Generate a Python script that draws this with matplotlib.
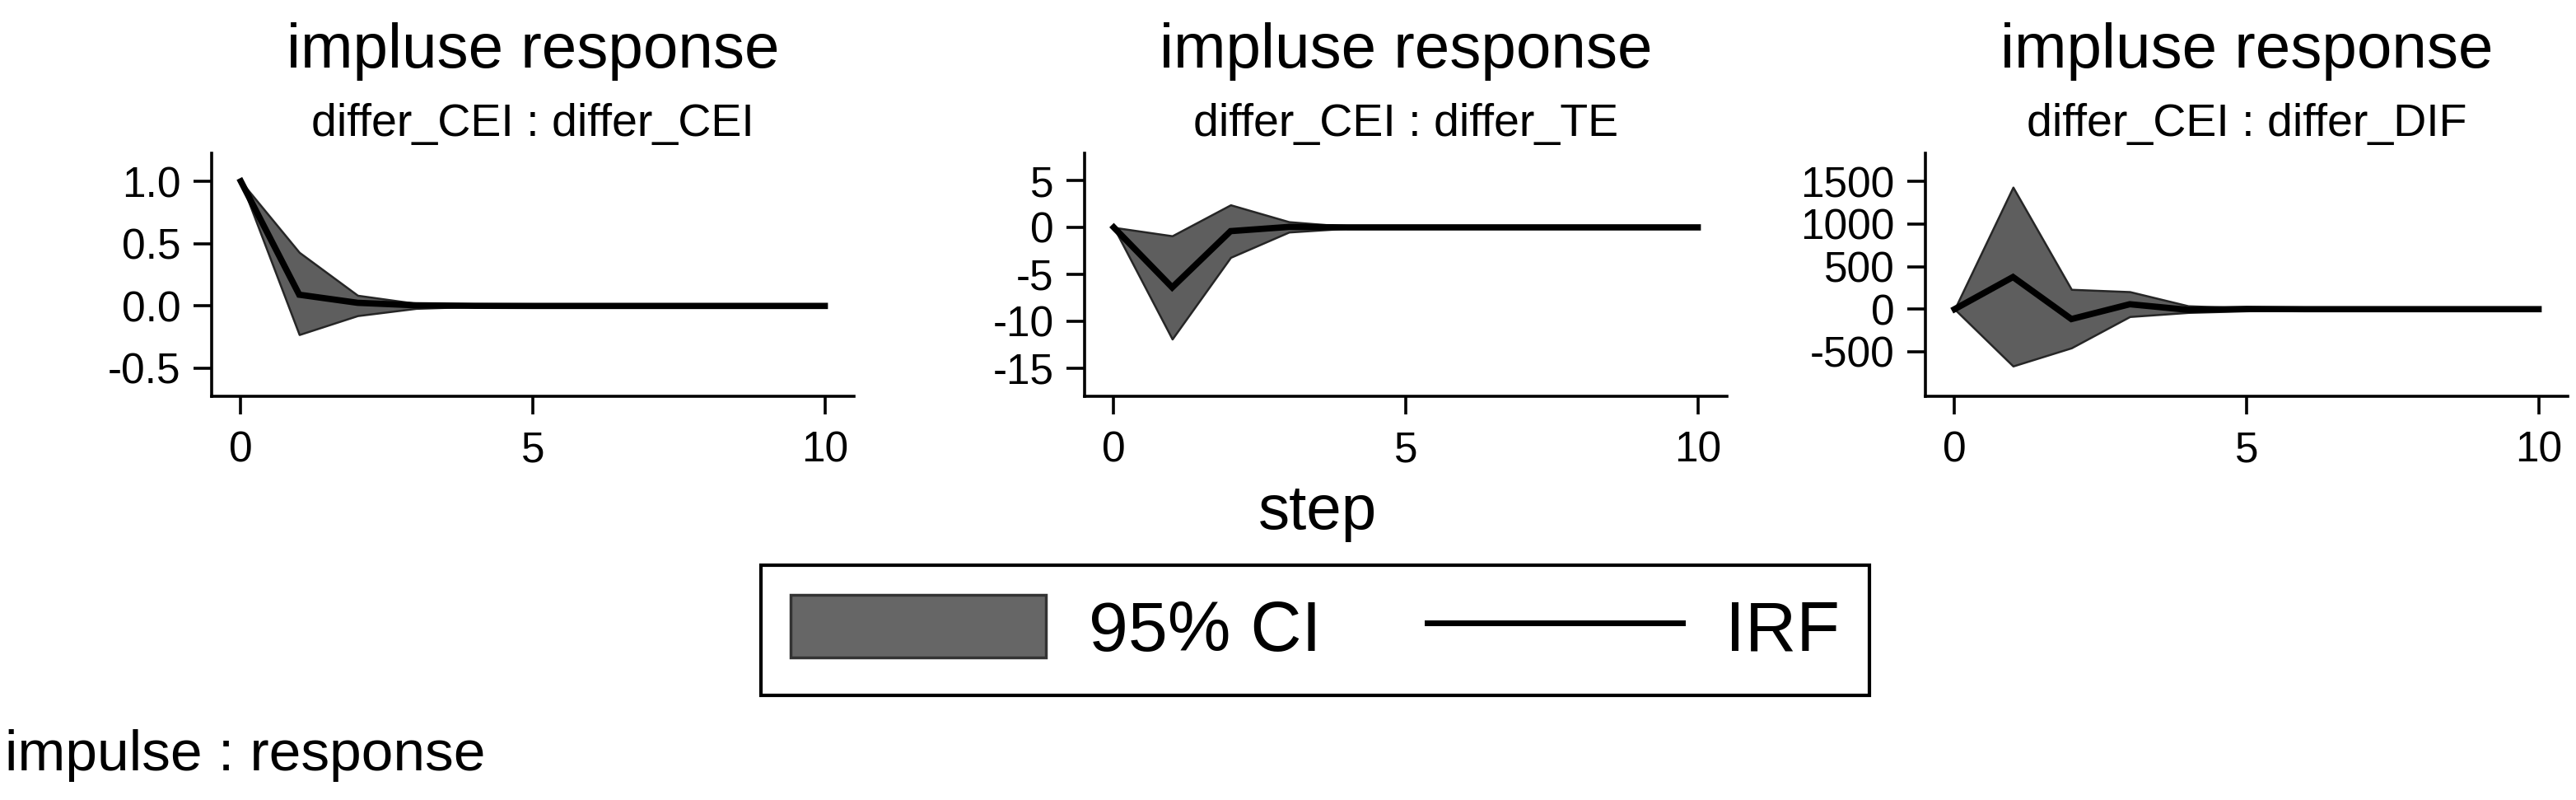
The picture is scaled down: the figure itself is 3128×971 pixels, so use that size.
import matplotlib
matplotlib.use("Agg")
import matplotlib.pyplot as plt
from matplotlib.patches import Patch
from matplotlib.lines import Line2D
import numpy as np

plt.rcParams['font.family'] = ['Liberation Sans', 'DejaVu Sans']

steps = list(range(11))

titles = ["impluse response", "impluse response", "impluse response"]
subtitles = ["differ_CEI : differ_CEI", "differ_CEI : differ_TE", "differ_CEI : differ_DIF"]

irf_cei = [1.0, 0.09, 0.025, 0.005, 0.001, 0, 0, 0, 0, 0, 0]
lo_cei = [1.0, -0.23, -0.078, -0.02, -0.005, -0.001, 0, 0, 0, 0, 0]
hi_cei = [1.0, 0.43, 0.085, 0.02, 0.005, 0.001, 0, 0, 0, 0, 0]

irf_te = [0, -6.4, -0.4, 0.05, 0.0, 0, 0, 0, 0, 0, 0]
lo_te = [0, -11.9, -3.2, -0.5, -0.1, -0.02, 0, 0, 0, 0, 0]
hi_te = [0, -0.9, 2.4, 0.6, 0.1, 0.02, 0, 0, 0, 0, 0]

irf_dif = [0, 377, -116, 58, -8, 3, 0, 0, 0, 0, 0]
lo_dif = [0, -667, -454, -87, -39, -20, -5, -1, 0, 0, 0]
hi_dif = [0, 1431, 232, 205, 39, 15, 5, 1, 0, 0, 0]

yticks = [[1.0, 0.5, 0.0, -0.5], [5, 0, -5, -10, -15], [1500, 1000, 500, 0, -500]]
yticklabels = [["1.0", "0.5", "0.0", "-0.5"], ["5", "0", "-5", "-10", "-15"],
               ["1500", "1000", "500", "0", "-500"]]
ylims = [(-0.725, 1.225), (-18.0, 7.9), (-1022, 1829)]
xticks = [0, 5, 10]

series = [(irf_cei, lo_cei, hi_cei), (irf_te, lo_te, hi_te), (irf_dif, lo_dif, hi_dif)]

W, H = 3128, 971
fig = plt.figure(figsize=(W / 100, H / 100), dpi=100)
fig.patch.set_facecolor('white')

lefts = [257, 1317, 2338]
ax_w = 780
top_px, bot_px = 186, 481

fill_c = '#5e5e5e'
edge_c = '#262626'

for i in range(3):
    l = lefts[i]
    ax = fig.add_axes([l / W, 1 - bot_px / H, ax_w / W, (bot_px - top_px) / H])
    irf, lo, hi = series[i]
    ax.fill_between(steps, lo, hi, facecolor=fill_c, edgecolor=edge_c, linewidth=1.8, zorder=2)
    ax.plot(steps, irf, color='black', linewidth=5.5, solid_joinstyle='miter', zorder=3)
    ax.set_xlim(-0.5, 10.5)
    ax.set_ylim(*ylims[i])
    ax.set_xticks(xticks)
    ax.set_xticklabels([str(t) for t in xticks])
    ax.set_yticks(yticks[i])
    ax.set_yticklabels(yticklabels[i])
    for s in ['top', 'right']:
        ax.spines[s].set_visible(False)
    for s in ['left', 'bottom']:
        ax.spines[s].set_linewidth(2.6)
    ax.tick_params(axis='both', direction='out', length=16, width=2.6, labelsize=37)
    ax.tick_params(axis='y', pad=11)
    ax.tick_params(axis='x', pad=14)
    cx = (l + ax_w / 2) / W
    fig.text(cx, 1 - 82 / H, titles[i], ha='center', va='baseline', fontsize=55)
    fig.text(cx, 1 - 165 / H, subtitles[i], ha='center', va='baseline', fontsize=40)

fig.text(1600 / W, 1 - 642 / H, "step", ha='center', va='baseline', fontsize=55)

handles = [Patch(facecolor='#666666', edgecolor='#333333', linewidth=2.5),
           Line2D([0], [0], color='black', linewidth=5)]
leg = fig.legend(handles, ["95% CI", "IRF"], loc='center',
                 bbox_to_anchor=(1597 / W, 1 - 765 / H), ncol=2, fontsize=62,
                 handlelength=3.6, handleheight=0.97, handletextpad=0.6,
                 columnspacing=1.5, borderpad=0.42, fancybox=False, frameon=True)
leg.get_frame().set_edgecolor('black')
leg.get_frame().set_linewidth(3)
leg.get_frame().set_alpha(1)

fig.text(6 / W, 1 - 935 / H, "impulse : response", ha='left', va='baseline', fontsize=50)

fig.savefig("out.png", dpi=100, facecolor='white')
